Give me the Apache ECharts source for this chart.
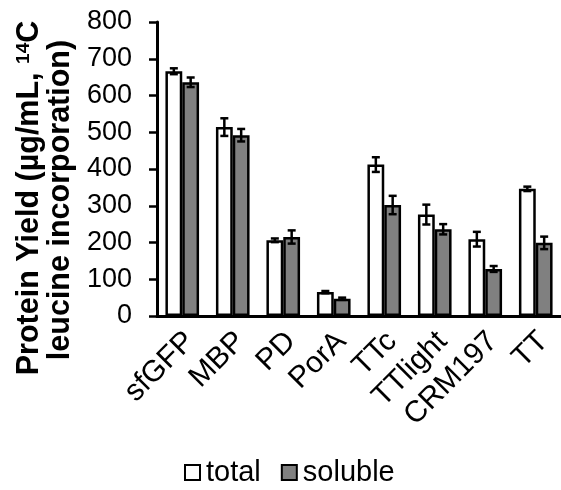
<!DOCTYPE html>
<html>
<head>
<meta charset="utf-8">
<script src="https://cdn.jsdelivr.net/npm/echarts@6/dist/echarts.min.js"></script>
<style>html,body{margin:0;padding:0;background:#fff;}#c{width:561px;height:490px;}</style>
</head>
<body>
<div id="c"></div>
<script>
var categories = ['sfGFP', 'MBP', 'PD', 'PorA', 'TTc', 'TTlight', 'CRM197', 'TT'];
var totalValues = [666, 514, 206, 65, 412, 276, 209, 346];
var solubleValues = [636, 492, 215, 47, 302, 236, 128, 199];
var totalErr = [8, 24, 5, 3, 20, 27, 20, 6];
var solubleErr = [13, 17, 18, 3, 25, 14, 8, 17];
var yTicks = [0, 100, 200, 300, 400, 500, 600, 700, 800];

var chart = echarts.init(document.getElementById('c'), null, {renderer: 'canvas'});
var FONT = '"Liberation Sans", Arial, sans-serif';

function errSeries(name, values, errs, side) {
  return {
    type: 'custom',
    name: name + '_err',
    silent: true,
    z: 10,
    renderItem: function (params, api) {
      var i = api.value(0);
      var v = api.value(1);
      var e = api.value(2);
      var band = api.size([1, 0])[0];
      var off = side * band / 6;
      var hi = api.coord([i, v + e]);
      var lo = api.coord([i, v - e]);
      var x = hi[0] + off;
      var cap = 4;
      var st = {stroke: '#000', lineWidth: 2.5, fill: null};
      return {
        type: 'group',
        children: [
          {type: 'line', shape: {x1: x, y1: hi[1], x2: x, y2: lo[1]}, style: st},
          {type: 'line', shape: {x1: x - cap, y1: hi[1], x2: x + cap, y2: hi[1]}, style: st},
          {type: 'line', shape: {x1: x - cap, y1: lo[1], x2: x + cap, y2: lo[1]}, style: st}
        ]
      };
    },
    data: values.map(function (v, i) { return [i, v, errs[i]]; })
  };
}

chart.setOption({
  animation: false,
  backgroundColor: '#fff',
  grid: {left: 157, right: -6, top: 22, bottom: 174, containLabel: false},
  legend: {
    data: ['total', 'soluble'],
    left: 179,
    top: 453,
    itemWidth: 15,
    itemHeight: 15,
    itemGap: 20,
    icon: 'rect',
    textStyle: {fontFamily: FONT, fontSize: 29, color: '#000', padding: [0, 0, 0, 1]}
  },
  xAxis: {
    type: 'category',
    data: categories,
    axisLine: {lineStyle: {color: '#000', width: 3}},
    axisTick: {length: 9, lineStyle: {color: '#000', width: 2.5}},
    axisLabel: {rotate: 45, margin: 13, verticalAlign: 'top', lineHeight: 22, fontFamily: FONT, fontSize: 30, color: '#000', interval: 0}
  },
  yAxis: {
    type: 'value',
    min: 0, max: 800, interval: 100,
    splitLine: {show: false},
    axisLine: {show: true, lineStyle: {color: '#000', width: 3}},
    axisTick: {show: true, length: 8, lineStyle: {color: '#000', width: 2.5}},
    axisLabel: {margin: 25, fontFamily: FONT, fontSize: 27, color: '#000',
      formatter: function (v) { return yTicks.indexOf(v) >= 0 ? String(v) : ''; }}
  },
  series: [
    {
      name: 'total', type: 'bar', data: totalValues, barWidth: '33.3%', barGap: '0%',
      itemStyle: {color: '#ffffff', borderColor: '#000', borderWidth: 2.5}
    },
    {
      name: 'soluble', type: 'bar', data: solubleValues, barWidth: '33.3%', barGap: '0%',
      itemStyle: {color: '#808080', borderColor: '#000', borderWidth: 2.5}
    },
    errSeries('total', totalValues, totalErr, -1),
    errSeries('soluble', solubleValues, solubleErr, 1)
  ],
  graphic: [
    {
      type: 'text', x: 30, y: 198, rotation: Math.PI / 2,
      style: {
        text: '{b|Protein Yield (µg/mL, }{s|14}{b|C}',
        rich: {
          b: {fontFamily: FONT, fontWeight: 'bold', fontSize: 30.5, color: '#000'},
          s: {fontFamily: FONT, fontWeight: 'bold', fontSize: 19, color: '#000', verticalAlign: 'top'}
        },
        align: 'center', verticalAlign: 'middle'
      }
    },
    {
      type: 'text', x: 61, y: 200, rotation: Math.PI / 2,
      style: {
        text: 'leucine incorporation)',
        fontFamily: FONT, fontWeight: 'bold', fontSize: 30.5, fill: '#000',
        align: 'center', verticalAlign: 'middle'
      }
    }
  ]
});
</script>
</body>
</html>
